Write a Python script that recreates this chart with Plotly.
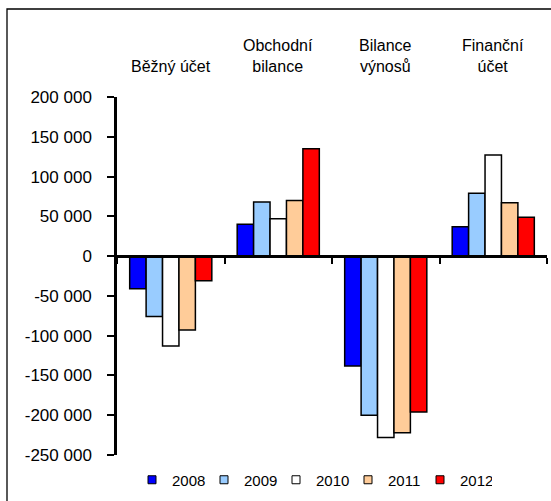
import plotly.graph_objects as go

categories = ["Běžný účet", "Obchodní bilance", "Bilance výnosů", "Finanční účet"]
category_labels = ["Běžný účet", "Obchodní<br>bilance", "Bilance<br>výnosů", "Finanční<br>účet"]
years = ["2008", "2009", "2010", "2011", "2012"]
values_2008 = [-41000, 40000, -138000, 37000]
values_2009 = [-76000, 68000, -200000, 79000]
values_2010 = [-113000, 47000, -228000, 127000]
values_2011 = [-93000, 70000, -222000, 67000]
values_2012 = [-31000, 135000, -196000, 49000]
series = [values_2008, values_2009, values_2010, values_2011, values_2012]
colors = ["#0000FF", "#99CCFF", "#FFFFFF", "#FFCC99", "#FF0000"]
tick_values = [200000, 150000, 100000, 50000, 0, -50000, -100000, -150000, -200000, -250000]
tick_labels = ["200 000", "150 000", "100 000", "50 000", "0", "-50 000", "-100 000",
               "-150 000", "-200 000", "-250 000"]

FONT = "Liberation Sans, Arial, sans-serif"

fig = go.Figure()
for yr, vals, col in zip(years, series, colors):
    fig.add_trace(go.Bar(
        x=categories, y=vals, name=yr,
        marker=dict(color=col, line=dict(color="black", width=1.5)),
        showlegend=False,
    ))
    fig.add_trace(go.Scatter(
        x=[None], y=[None], name=yr, mode="markers",
        marker=dict(symbol="square", size=8, color=col, line=dict(color="black", width=1)),
        showlegend=True,
    ))

L, R, T, B = 117, 4, 97, 46
W, H = 551, 501
pw, ph = W - L - R, H - T - B

def px_x(p):
    return (p - L) / pw

def px_y(p):
    return 1 - (p - T) / ph

ymin, ymax = -250000, 200000
zero_pos = (0 - ymin) / (ymax - ymin)

for cat, lab in zip(categories, category_labels):
    fig.add_annotation(x=cat, xref="x", y=px_y(77), yref="paper", text=lab,
                       showarrow=False, yanchor="bottom", xanchor="center",
                       font=dict(size=16, color="black", family=FONT))

# outer chart frame (partially cropped in the reference)
fig.add_shape(type="rect", xref="paper", yref="paper",
              x0=px_x(7), x1=px_x(560), y0=px_y(510), y1=px_y(9),
              line=dict(color="black", width=1.3), fillcolor="rgba(0,0,0,0)", layer="below")

fig.update_layout(
    width=W, height=H,
    margin=dict(l=L, r=R, t=T, b=B, pad=0),
    paper_bgcolor="white", plot_bgcolor="white",
    barmode="group", bargap=0.236, bargroupgap=0,
    font=dict(family=FONT, size=16, color="black"),
    showlegend=True,
    legend=dict(orientation="h", x=px_x(132), xanchor="left", y=px_y(480), yanchor="middle",
                font=dict(size=15, color="black", family=FONT),
                entrywidth=27, itemwidth=30, bgcolor="rgba(0,0,0,0)", traceorder="normal"),
    xaxis=dict(type="category", anchor="free", position=zero_pos,
               showline=True, linecolor="black", linewidth=3,
               ticks="outside", tickson="boundaries", ticklen=6, tickwidth=2, tickcolor="black",
               showticklabels=False, showgrid=False, zeroline=False, fixedrange=True),
    yaxis=dict(range=[ymin, ymax], tickvals=tick_values, ticktext=tick_labels,
               showline=True, linecolor="black", linewidth=2.5,
               ticks="outside", ticklen=7, tickwidth=2, tickcolor="black",
               ticklabelstandoff=12,
               tickfont=dict(size=17, color="black", family=FONT),
               showgrid=False, zeroline=False, fixedrange=True),
)

fig.write_html("out.html", config={"displayModeBar": False},
               post_script="document.body.style.margin='0';document.body.style.overflow='hidden';")
